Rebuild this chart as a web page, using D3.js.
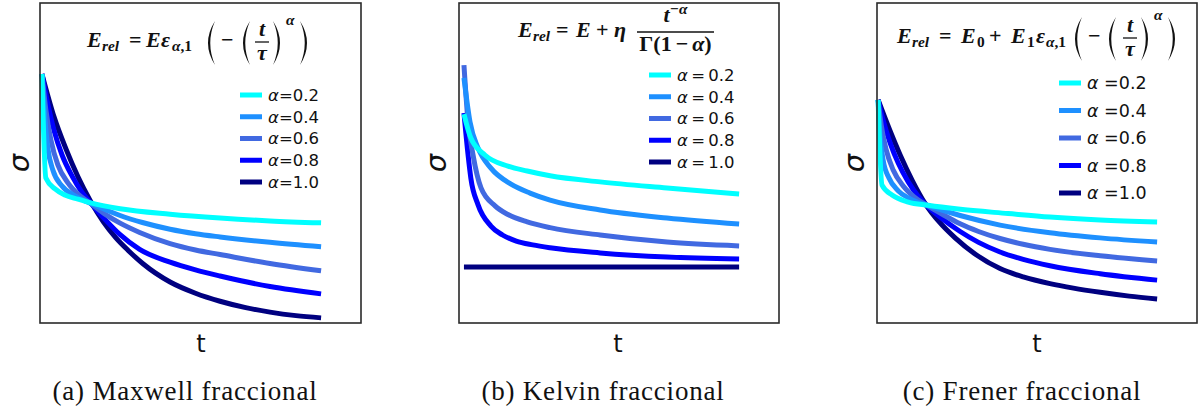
<!DOCTYPE html>
<html>
<head>
<meta charset="utf-8">
<script src="https://cdn.jsdelivr.net/npm/d3@7"></script>
<style>
  body { margin: 0; background: #fff; }
</style>
</head>
<body>
<div id="chart"></div>
<script>
const alphaLabels = ['0.2', '0.4', '0.6', '0.8', '1.0']
const lineColors = ['#00ffff', '#1e90ff', '#4169e1', '#0000ff', '#000080']

// values: [t, sigma]
const maxwell02 = [[0, 77.8], [0.14, 45.3], [0.47, 41.9], [0.82, 40.0], [1.29, 38.7], [1.72, 37.6], [2.80, 35.7], [4.59, 34.0], [6.38, 32.8], [8.17, 31.9], [10, 31.3]]
const maxwell04 = [[0, 77.8], [0.11, 63.4], [0.22, 54.1], [0.39, 47.8], [0.72, 42.8], [1.18, 39.7], [1.72, 37.5], [2.3, 35.3], [2.8, 33.6], [3.6, 31.4], [4.59, 29.3], [5.5, 27.9], [6.38, 26.9], [8.17, 25.2], [10, 23.8]]
const maxwell06 = [[0, 77.8], [0.14, 66.6], [0.32, 57.2], [0.57, 49.4], [0.93, 43.8], [1.29, 40.3], [1.72, 37.5], [2.3, 33.8], [2.8, 31.2], [3.5, 28.3], [4.59, 24.8], [5.5, 22.8], [6.38, 21.4], [8.17, 18.6], [10, 16.3]]
const maxwell08 = [[0, 77.8], [0.18, 69.7], [0.43, 60.3], [0.72, 52.5], [1.08, 45.9], [1.43, 40.9], [1.72, 37.8], [2.3, 32.0], [2.8, 27.6], [3.5, 23.0], [4.59, 19.0], [5.5, 16.6], [6.38, 14.7], [8.17, 11.4], [10, 9.1]]
const maxwell10 = [[0, 77.8], [0.43, 64.5], [0.86, 54.4], [1.29, 45.7], [1.72, 38.4], [2.2, 31.6], [2.65, 26.6], [3.1, 22.6], [3.62, 18.5], [4.59, 12.8], [5.5, 9.3], [6.38, 6.8], [7.3, 4.8], [8.17, 3.4], [9.1, 2.3], [10, 1.6]]

const kelvin02 = [[0, 65.3], [0.25, 57.8], [0.76, 52.5], [1.6, 49.0], [2.3, 47.5], [3.13, 46.0], [4.95, 44.1], [7.38, 42.2], [10, 40.3]]
const kelvin04 = [[0, 76.6], [0.22, 62.8], [0.51, 54.7], [0.98, 48.4], [1.71, 43.4], [2.4, 40.6], [3.13, 38.4], [4.95, 35.3], [7.38, 32.8], [10, 30.9]]
const kelvin06 = [[0, 80.6], [0.15, 62.8], [0.33, 52.5], [0.62, 42.2], [1.13, 36.6], [1.6, 33.9], [2.3, 31.6], [3.13, 29.8], [4.95, 27.5], [7.38, 25.3], [10, 24.1]]
const kelvin08 = [[0, 65.6], [0.15, 52.5], [0.25, 45.3], [0.51, 37.0], [0.98, 30.3], [1.4, 27.5], [1.9, 25.6], [2.5, 24.4], [3.13, 23.5], [4.95, 21.9], [7.38, 20.6], [10, 20.0]]
const kelvin10 = [[0, 17.5], [2.5, 17.5], [5, 17.5], [7.5, 17.5], [10, 17.5]]

const frener02 = [[0, 69.7], [0.14, 43.1], [0.50, 40.0], [1.08, 37.8], [1.79, 36.8], [2.87, 35.6], [4.66, 34.2], [6.16, 33.1], [7.96, 32.2], [10, 31.6]]
const frener04 = [[0, 69.7], [0.07, 58.8], [0.18, 50.9], [0.39, 45.3], [0.72, 41.3], [1.15, 38.8], [1.72, 36.9], [2.94, 33.6], [4.37, 30.6], [6.16, 28.2], [7.96, 26.6], [10, 25.3]]
const frener06 = [[0, 69.7], [0.11, 61.9], [0.29, 54.1], [0.54, 47.8], [0.90, 42.8], [1.29, 39.4], [1.72, 36.9], [2.3, 34.0], [2.94, 31.0], [3.6, 28.6], [4.37, 26.4], [5.2, 24.6], [6.16, 23.0], [7.96, 21.0], [10, 19.4]]
const frener08 = [[0, 69.7], [0.18, 63.4], [0.43, 56.3], [0.72, 50.0], [1.08, 44.1], [1.43, 39.7], [1.72, 36.9], [2.3, 32.6], [2.94, 28.6], [3.6, 25.2], [4.37, 22.2], [5.2, 19.9], [6.16, 17.9], [7.96, 15.4], [10, 13.4]]
const frener10 = [[0, 69.7], [0.43, 60.0], [0.79, 52.5], [1.22, 44.6], [1.68, 37.4], [2.2, 31.5], [2.76, 26.6], [3.5, 21.4], [4.37, 17.0], [5.2, 14.4], [6.16, 12.3], [7.0, 10.9], [7.96, 9.6], [9.0, 8.4], [10, 7.5]]

const captions = ['(a) Maxwell fraccional', '(b) Kelvin fraccional', '(c) Frener fraccional']

// formula pieces, x = offset from the start of the formula
const sub = (t, x, it) => ({ t: t, x: x, i: it, s: 0.7, dy: 4 })
const tOverTau = (x0, x1) => ({ frac: [[{ t: 't', i: 1 }], [{ t: 'τ', i: 1 }]], x0: x0, x1: x1, num: -11, den: 13, bar: -5 })

const formulaA = [
  { t: 'E', i: 1, x: 0 }, sub('rel', 15, 1), { t: '=', x: 42 },
  { t: 'E', i: 1, x: 59 }, { t: 'ε', i: 1, x: 74 }, sub('α', 85, 1), sub(',1'),
  { p: '(', x: 120 }, { t: '−', x: 134 }, { p: '(', x: 155 },
  tOverTau(168, 182), { p: ')', x: 186 },
  { t: 'α', i: 1, s: 0.7, dy: -22, x: 199 }, { p: ')', x: 213 }
]
const formulaB = [
  { t: 'E', i: 1, x: 0 }, sub('rel', 15, 1), { t: '=', x: 38 },
  { t: 'E', i: 1, x: 58 }, { t: '+', x: 78 }, { t: 'η', i: 1, x: 96 },
  { frac: [[{ t: 't', i: 1 }, { t: '−α', i: 1, s: 0.7, dy: -8 }],
    [{ t: 'Γ(1' }, { sp: 4 }, { t: '−' }, { sp: 4 }, { t: 'α', i: 1 }, { t: ')' }]],
    x0: 119, x1: 196, num: -15, den: 14, bar: -5 }
]
const formulaC = [
  { t: 'E', i: 1, x: 0 }, sub('rel', 15, 1), { t: '=', x: 42 },
  { t: 'E', i: 1, x: 64 }, sub('0', 80), { t: '+', x: 92 },
  { t: 'E', i: 1, x: 114 }, sub('1', 130), { t: 'ε', i: 1, x: 139 }, sub('α', 149, 1), sub(',1'),
  { p: '(', x: 177 }, { t: '−', x: 191 }, { p: '(', x: 211 },
  tOverTau(226, 240), { p: ')', x: 244 },
  { t: 'α', i: 1, s: 0.7, dy: -23, x: 257 }, { p: ')', x: 271 }
]

const panels = [
  {
    frame: { x: 40, y: 3, w: 321, h: 320 },
    tDomain: [-0.07, 11.43],
    series: [maxwell02, maxwell04, maxwell06, maxwell08, maxwell10],
    legend: { x: 240, y: 95, step: 21.75, size: 16.5, sep: '=' },
    formula: formulaA, fx: 87, fy: 47,
    sigmaX: 20, tX: 201, capX: 185
  },
  {
    frame: { x: 459, y: 3, w: 320, h: 320 },
    tDomain: [-0.18, 11.45],
    series: [kelvin02, kelvin04, kelvin06, kelvin08, kelvin10],
    legend: { x: 649, y: 75, step: 21.75, size: 16.5, sep: '\u2009=\u2009' },
    formula: formulaB, fx: 518, fy: 37,
    sigmaX: 437, tX: 618, capX: 603
  },
  {
    frame: { x: 877, y: 3, w: 320, h: 320 },
    tDomain: [-0.04, 11.43],
    series: [frener02, frener04, frener06, frener08, frener10],
    legend: { x: 1059, y: 83, step: 27.5, size: 17.5, sep: ' =' },
    formula: formulaC, fx: 897, fy: 43,
    sigmaX: 855, tX: 1037, capX: 1022
  }
]

const svg = d3.select('#chart')
  .append('svg')
  .attr('width', 1198)
  .attr('height', 413)

const mathFont = 'Liberation Serif'
const mathSize = 22

function drawParen (g, x, dir) {
  const w = 8
  const top = -26
  const bot = 18
  const mid = (top + bot) / 2
  let d
  if (dir === '(') {
    d = `M${x + w},${top} Q${x - w + 2},${mid} ${x + w},${bot} Q${x + 6.5 - w},${mid} ${x + w},${top} Z`
  } else {
    d = `M${x},${top} Q${x + 2 * w - 2},${mid} ${x},${bot} Q${x + 2 * w - 6.5},${mid} ${x},${top} Z`
  }
  g.append('path').attr('d', d).attr('fill', '#111')
}

function renderMath (g, tokens) {
  let x = 0
  tokens.forEach(k => {
    if (k.x != null) x = k.x
    if (k.sp != null) { x += k.sp; return }
    if (k.p) { drawParen(g, x, k.p); x += 8; return }
    if (k.frac) {
      const gn = g.append('g')
      const gd = g.append('g')
      const wn = renderMath(gn, k.frac[0])
      const wd = renderMath(gd, k.frac[1])
      const cx = (k.x0 + k.x1) / 2
      gn.attr('transform', `translate(${cx - wn / 2},${k.num})`)
      gd.attr('transform', `translate(${cx - wd / 2},${k.den})`)
      g.append('line')
        .attr('x1', k.x0).attr('x2', k.x1)
        .attr('y1', k.bar).attr('y2', k.bar)
        .attr('stroke', '#111').attr('stroke-width', 1.3)
      x = k.x1
      return
    }
    const txt = g.append('text')
      .attr('x', x)
      .attr('y', k.dy || 0)
      .attr('font-family', mathFont)
      .attr('font-weight', 'bold')
      .attr('font-style', k.i ? 'italic' : 'normal')
      .attr('font-size', mathSize * (k.s || 1))
      .attr('fill', '#111')
      .text(k.t)
    x += txt.node().getComputedTextLength()
  })
  return x
}

panels.forEach((panel, pi) => {
  const f = panel.frame
  const xScale = d3.scaleLinear()
    .domain(panel.tDomain)
    .range([f.x, f.x + f.w])
  const yScale = d3.scaleLinear()
    .domain([0, 100])
    .range([f.y + f.h, f.y])

  const line = d3.line()
    .x(d => xScale(d[0]))
    .y(d => yScale(d[1]))
    .curve(d3.curveMonotoneX)

  // draw 1.0 first so the lighter curves sit on top
  const order = [4, 3, 2, 1, 0]
  svg.append('g')
    .selectAll('path')
    .data(order)
    .enter()
    .append('path')
    .attr('d', i => line(panel.series[i]))
    .attr('fill', 'none')
    .attr('stroke', i => lineColors[i])
    .attr('stroke-width', 5)
    .attr('stroke-linejoin', 'round')

  svg.append('rect')
    .attr('x', f.x)
    .attr('y', f.y)
    .attr('width', f.w)
    .attr('height', f.h)
    .attr('fill', 'none')
    .attr('stroke', '#2a2a2a')
    .attr('stroke-width', 1.6)

  // legend
  const lg = panel.legend
  const rows = svg.append('g')
    .selectAll('g')
    .data(alphaLabels)
    .enter()
    .append('g')
    .attr('transform', (d, i) => `translate(${lg.x},${lg.y + i * lg.step})`)
  rows.append('line')
    .attr('x1', 0).attr('x2', 22)
    .attr('stroke', (d, i) => lineColors[i])
    .attr('stroke-width', 5)
  const lt = rows.append('text')
    .attr('x', 28)
    .attr('dy', '0.36em')
    .attr('font-family', 'DejaVu Sans')
    .attr('font-size', lg.size)
    .attr('fill', '#111')
  lt.append('tspan').attr('font-style', 'italic').text('α')
  lt.append('tspan').text(d => lg.sep + d)

  // formula
  const fg = svg.append('g')
    .attr('transform', `translate(${panel.fx},${panel.fy})`)
  renderMath(fg, panel.formula)

  // axis labels
  svg.append('text')
    .attr('transform', `translate(${panel.sigmaX},163) rotate(-90)`)
    .attr('text-anchor', 'middle')
    .attr('dy', '0.3em')
    .attr('font-family', 'DejaVu Sans')
    .attr('font-style', 'italic')
    .attr('font-size', 29)
    .attr('fill', '#111')
    .text('σ')
  svg.append('text')
    .attr('x', panel.tX)
    .attr('y', 352)
    .attr('text-anchor', 'middle')
    .attr('font-family', 'DejaVu Sans')
    .attr('font-size', 24)
    .attr('fill', '#111')
    .text('t')

  svg.append('text')
    .attr('x', panel.capX)
    .attr('y', 400)
    .attr('text-anchor', 'middle')
    .attr('font-family', 'Liberation Serif')
    .attr('font-size', 27)
    .attr('letter-spacing', 0.8)
    .attr('fill', '#111')
    .text(captions[pi])
})
</script>
</body>
</html>
